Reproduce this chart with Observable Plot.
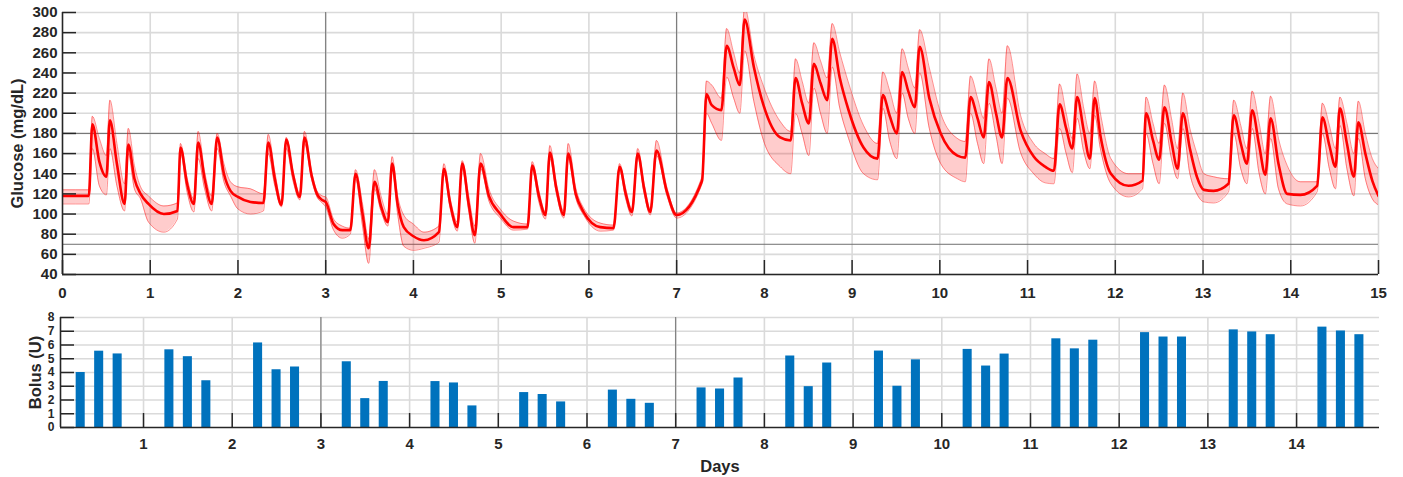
<!DOCTYPE html>
<html><head><meta charset="utf-8">
<script src="https://cdn.jsdelivr.net/npm/d3@7"></script>
<script src="https://cdn.jsdelivr.net/npm/@observablehq/plot@0.6"></script>
<style>
body{margin:0;background:#fff;}
#wrap{position:relative;width:1403px;height:477px;overflow:hidden;}
#topPanel,#botPanel{position:absolute;left:0;}
#topPanel{top:0}
#botPanel{top:300px}
</style></head><body><div id="wrap"><div id="topPanel"></div><div id="botPanel"></div></div>
<script>
// ---- Glucose (mg/dL): time in days, mean and shaded range ----
const glucoseTime = [
 0,0.30,0.34,0.42,0.50,0.54,0.62,0.707,0.75,0.82,0.89,0.98,
 1.155,1.31,1.345,1.42,1.497,1.546,1.62,1.70,1.763,1.84,1.915,
 2.00,2.143,2.29,2.345,2.42,2.496,2.55,2.63,2.705,2.758,2.84,2.90,2.96,
 3.00,3.09,3.19,3.28,3.34,3.42,3.49,3.556,3.63,3.708,3.757,3.82,3.89,
 4.00,4.12,4.29,4.347,4.42,4.50,4.556,4.63,4.70,4.765,4.86,4.99,
 5.14,5.30,5.354,5.43,5.505,5.555,5.63,5.714,5.764,5.85,5.94,
 6.13,6.28,6.35,6.42,6.49,6.557,6.63,6.70,6.77,6.89,
 7.00,7.29,7.34,7.40,7.51,7.57,7.65,7.72,7.775,7.88,7.99,
 8.18,8.30,8.355,8.43,8.507,8.564,8.64,8.716,8.773,8.86,8.96,
 9.13,9.29,9.35,9.43,9.51,9.57,9.64,9.715,9.77,9.88,
 10.01,10.20,10.29,10.35,10.43,10.50,10.56,10.64,10.71,10.77,10.92,
 11.07,11.20,11.30,11.365,11.44,11.51,11.565,11.64,11.71,11.765,11.83,11.95,
 12.15,12.31,12.35,12.43,12.50,12.56,12.64,12.71,12.77,12.85,12.93,
 13.01,13.12,13.29,13.35,13.43,13.50,13.56,13.64,13.71,13.77,13.86,13.96,
 14.11,14.30,14.36,14.44,14.51,14.56,14.64,14.72,14.77,14.85,14.93,15.00
];
const glucoseMean = [
 118,118,189,152,137,193,150,110,169,135,120,110,
 100,103,166,130,110,171,135,110,176,140,123,
 117,112,111,171,135,109,174,138,117,176,138,120,114,
 112,90,84,84,140,100,66,132,108,92,150,110,87,
 78,74,82,145,110,87,150,110,79,150,118,100,
 87,87,148,118,99,161,125,99,160,120,102,
 87,86,147,120,102,160,125,102,163,122,
 99,133,219,208,203,267,245,228,293,246,208,
 176,173,235,210,190,249,230,213,274,235,203,
 166,155,218,197,180,241,222,206,266,215,
 180,158,156,216,195,176,231,200,176,235,183,
 157,147,143,209,185,165,216,183,155,215,178,140,
 128,133,200,173,154,206,172,145,200,165,137,
 124,123,130,198,170,150,203,168,139,195,150,120,
 119,128,196,168,147,205,170,137,191,160,133,118
];
const glucoseLow = [
 110,110,165,128,119,165,128,103,160,125,115,92,
 82,95,160,122,102,155,125,103,165,132,118,
 105,100,103,160,128,107,165,132,114,170,134,117,111,
 107,84,76,80,135,88,51,125,103,88,145,100,68,
 64,66,72,140,105,83,145,103,71,145,113,96,
 84,85,144,112,95,155,120,96,155,116,99,
 83,84,143,115,98,156,120,99,158,118,
 96,130,200,190,173,236,215,200,262,212,173,
 147,140,200,180,158,225,200,180,246,205,175,
 140,134,205,172,155,220,195,180,240,185,
 150,135,132,200,170,150,210,178,150,215,161,
 140,131,130,185,160,141,195,162,145,198,165,130,
 117,125,180,150,130,190,155,135,185,140,120,
 112,111,122,180,145,130,185,140,120,175,125,110,
 108,122,180,145,125,188,145,118,175,135,115,109
];
const glucoseHigh = [
 124,124,197,175,158,213,170,130,185,148,127,118,
 108,111,170,136,115,182,142,118,180,150,132,
 127,125,120,179,142,112,176,142,120,182,142,123,118,
 117,95,88,86,144,110,75,144,118,100,157,118,99,
 90,82,88,150,115,92,153,118,88,160,125,105,
 93,90,152,123,102,168,130,103,170,126,106,
 91,89,150,125,105,165,130,105,173,126,
 101,137,232,228,215,284,260,240,305,258,227,
 192,182,254,232,210,270,252,235,289,260,230,
 188,170,241,222,200,264,245,225,283,245,
 200,175,172,237,215,195,254,225,200,267,198,
 170,160,155,229,200,175,239,205,180,232,200,155,
 140,140,216,190,170,228,195,165,220,185,160,
 140,137,135,213,188,165,222,190,160,217,175,148,
 132,132,210,188,165,216,190,160,212,180,155,145
];

// ---- Bolus (U): one per meal, meals at 7h, 12h, 17h each day ----
const mealHours = [7, 12, 17];
const bolusUnits = [
 4.0,5.55,5.35,  5.65,5.15,3.4,  6.15,4.2,4.4,  4.78,2.1,3.35,
 3.34,3.24,1.57, 2.54,2.4,1.86,  2.72,2.05,1.76, 2.88,2.8,3.6,
 5.2,2.97,4.69,  5.56,3.0,4.92,  5.68,4.47,5.34, 6.45,5.72,6.35,
 6.9,6.58,6.58,  7.1,6.95,6.75,  7.3,7.02,6.75
];

// ---- axes / reference lines ----
const glucoseTicks = d3.range(40, 301, 20);
const dayTicksTop = d3.range(0, 16);
const dayTicksBottom = d3.range(1, 15);
const bolusTicks = d3.range(0, 9);
const glucoseRefLines = [70, 180];
const dayRefLines = [3, 7];
const glucoseDomain = [40, 300];
const dayDomainTop = [0, 15];
const dayDomainBottom = [0.064, 14.935];
const bolusDomain = [0, 8];

const glucose = glucoseTime.map((t, i) => ({t, m: glucoseMean[i], lo: glucoseLow[i], hi: glucoseHigh[i]}));
const bolus = bolusUnits.map((u, i) => ({t: Math.floor(i / 3) + mealHours[i % 3] / 24, u}));

const W = 1403;
const FONT = "'Liberation Sans', Arial, Helvetica, sans-serif";
const GRID = "#dadada", REF = "#6f6f6f", AXIS = "#262626", RED = "#ff0000", BLUE = "#0072bd";
const baseStyle = {fontFamily: FONT, fontSize: "15px", fontWeight: "bold", color: AXIS, background: "white", overflow: "visible"};
const CURVE = "monotone-x";

// top panel
const TP = {h: 300, mt: 12, mb: 26, ml: 62, mr: 25};
const tPlotH = TP.h - TP.mt - TP.mb, tPlotW = W - TP.ml - TP.mr;
const topChart = Plot.plot({
  width: W, height: TP.h, marginTop: TP.mt, marginBottom: TP.mb, marginLeft: TP.ml, marginRight: TP.mr,
  style: baseStyle,
  x: {domain: dayDomainTop}, y: {domain: glucoseDomain},
  marks: [
    Plot.ruleY(glucoseTicks, {stroke: GRID, strokeWidth: 1.6}),
    Plot.ruleX(dayTicksTop.slice(1), {stroke: GRID, strokeWidth: 1.6}),
    Plot.ruleY(glucoseRefLines, {stroke: REF, strokeWidth: 1}),
    Plot.ruleX(dayRefLines, {stroke: REF, strokeWidth: 1}),
    Plot.areaY(glucose, {x: "t", y1: "lo", y2: "hi", fill: RED, fillOpacity: 0.2, curve: CURVE, clip: true}),
    Plot.lineY(glucose, {x: "t", y: "lo", stroke: RED, strokeOpacity: 0.55, strokeWidth: 0.8, curve: CURVE, clip: true}),
    Plot.lineY(glucose, {x: "t", y: "hi", stroke: RED, strokeOpacity: 0.55, strokeWidth: 0.8, curve: CURVE, clip: true}),
    Plot.lineY(glucose, {x: "t", y: "m", stroke: RED, strokeWidth: 2.6, curve: CURVE, clip: true}),
    Plot.ruleX(dayTicksTop, {stroke: AXIS, strokeWidth: 1.5, insetTop: tPlotH - 14}),
    Plot.ruleY(glucoseTicks, {stroke: AXIS, strokeWidth: 1.5, insetRight: tPlotW - 14}),
    Plot.ruleY([glucoseDomain[0]], {stroke: AXIS, strokeWidth: 1.6}),
    Plot.ruleX([dayDomainTop[0]], {stroke: AXIS, strokeWidth: 1.6}),
    Plot.axisX({ticks: dayTicksTop, tickSize: 0, tickPadding: 13, label: null}),
    Plot.axisY({ticks: glucoseTicks, tickSize: 0, tickPadding: 5, label: null}),
    Plot.text(["Glucose (mg/dL)"], {frameAnchor: "left", dx: -45, rotate: -90, textAnchor: "middle", lineAnchor: "middle", fontSize: 16.5, fontWeight: "bold", fill: AXIS})
  ]
});
document.getElementById("topPanel").appendChild(topChart);

// bottom panel
const BP = {h: 177, mt: 17, mb: 50, ml: 60, mr: 24};
const bPlotH = BP.h - BP.mt - BP.mb, bPlotW = W - BP.ml - BP.mr;
const botChart = Plot.plot({
  width: W, height: BP.h, marginTop: BP.mt, marginBottom: BP.mb, marginLeft: BP.ml, marginRight: BP.mr,
  style: baseStyle,
  x: {domain: dayDomainBottom}, y: {domain: bolusDomain},
  marks: [
    Plot.ruleY(bolusTicks.slice(1), {stroke: GRID, strokeWidth: 1.6}),
    Plot.ruleX(dayTicksBottom, {stroke: GRID, strokeWidth: 1.6}),
    Plot.ruleX(dayRefLines, {stroke: REF, strokeWidth: 1}),
    Plot.rectY(bolus, {x1: d => d.t - 0.051, x2: d => d.t + 0.051, y: "u", fill: BLUE}),
    Plot.ruleX(dayTicksBottom, {stroke: AXIS, strokeWidth: 1.5, insetTop: bPlotH - 14}),
    Plot.ruleY(bolusTicks, {stroke: AXIS, strokeWidth: 1.5, insetRight: bPlotW - 14}),
    Plot.ruleY([bolusDomain[0]], {stroke: AXIS, strokeWidth: 1.6}),
    Plot.ruleX([dayDomainBottom[0]], {stroke: AXIS, strokeWidth: 1.6}),
    Plot.axisX({ticks: dayTicksBottom, tickSize: 0, tickPadding: 11, label: null}),
    Plot.axisY({ticks: bolusTicks, tickSize: 0, tickPadding: 6, fontSize: 12, label: null}),
    Plot.text(["Bolus (U)"], {frameAnchor: "left", dx: -25, rotate: -90, textAnchor: "middle", lineAnchor: "middle", fontSize: 16.5, fontWeight: "bold", fill: AXIS}),
    Plot.text(["Days"], {frameAnchor: "bottom", dy: 39, textAnchor: "middle", lineAnchor: "middle", fontSize: 16.5, fontWeight: "bold", fill: AXIS})
  ]
});
document.getElementById("botPanel").appendChild(botChart);
</script>
</body></html>
